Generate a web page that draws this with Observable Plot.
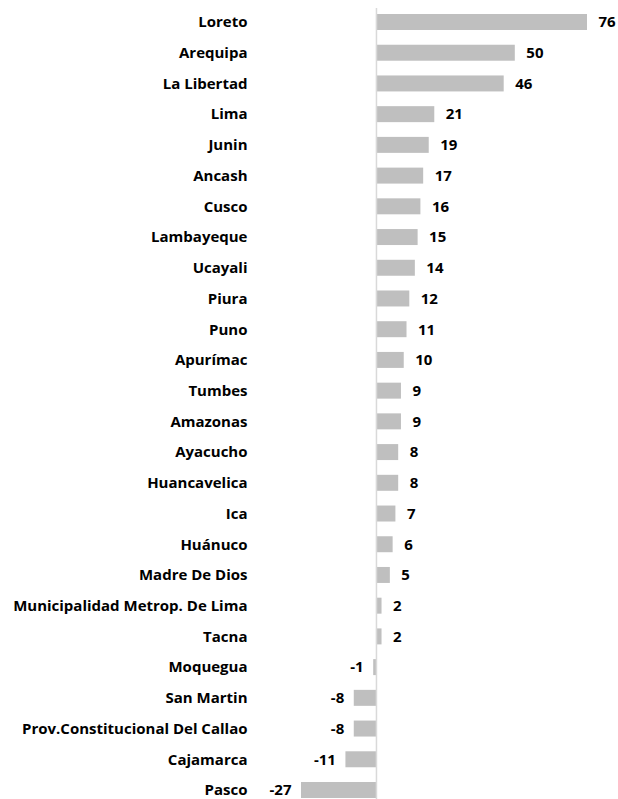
<!DOCTYPE html>
<html>
<head>
<meta charset="utf-8">
<script src="https://cdn.jsdelivr.net/npm/d3@7"></script>
<script src="https://cdn.jsdelivr.net/npm/@observablehq/plot@0.6"></script>
<style>
  html, body { margin: 0; padding: 0; background: #fff; }
  #chart svg { display: block; }
</style>
</head>
<body>
<div id="chart"></div>
<script>
const regions = ["Loreto","Arequipa","La Libertad","Lima","Junin","Ancash","Cusco","Lambayeque","Ucayali","Piura","Puno","Apurímac","Tumbes","Amazonas","Ayacucho","Huancavelica","Ica","Huánuco","Madre De Dios","Municipalidad Metrop. De Lima","Tacna","Moquegua","San Martin","Prov.Constitucional Del Callao","Cajamarca","Pasco"];
const values = [76,50,46,21,19,17,16,15,14,12,11,10,9,9,8,8,7,6,5,2,2,-1,-8,-8,-11,-27];

const data = regions.map((r, i) => ({region: r, value: values[i]}));
const pos = data.filter(d => d.value >= 0);
const neg = data.filter(d => d.value < 0);

const font = "'Open Sans', Lato, sans-serif";
const fs = 15;

const chart = Plot.plot({
  width: 618,
  height: 799,
  marginLeft: 301,
  marginRight: 31,
  marginTop: 13,
  marginBottom: 0,
  style: {fontFamily: font, fontSize: fs + "px", fontWeight: "bold", color: "#000", background: "#fff"},
  x: {domain: [-27, 76], axis: null},
  y: {domain: regions, paddingInner: 0.48, paddingOuter: 0.033, round: false, label: null},
  marks: [
    Plot.barX(data, {x: "value", y: "region", fill: "#bfbfbf"}),
    Plot.ruleX([0], {stroke: "#d9d9d9", strokeWidth: 1.5, insetTop: -5}),
    Plot.text(pos, {x: "value", y: "region", text: d => String(d.value), textAnchor: "start", dx: 11, fill: "#000", fontSize: fs, fontWeight: "bold"}),
    Plot.text(neg, {x: "value", y: "region", text: d => String(d.value), textAnchor: "end", dx: -10, fill: "#000", fontSize: fs, fontWeight: "bold"}),
    Plot.axisY({tickSize: 0, tickPadding: 54, fontSize: fs, fontWeight: "bold", fill: "#000", label: null})
  ]
});
document.getElementById("chart").appendChild(chart);
</script>
</body>
</html>
